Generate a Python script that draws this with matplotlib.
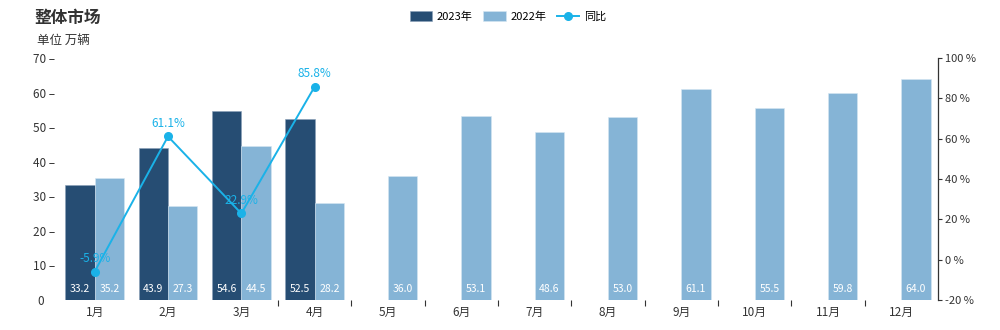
import matplotlib.pyplot as plt
import numpy as np

plt.rcParams['font.family'] = ['Noto Sans CJK SC', 'DejaVu Sans']

months = ['1月', '2月', '3月', '4月', '5月', '6月', '7月', '8月', '9月', '10月', '11月', '12月']
sales_2023 = [33.2, 43.9, 54.6, 52.5]
sales_2022 = [35.2, 27.3, 44.5, 28.2, 36.0, 53.1, 48.6, 53.0, 61.1, 55.5, 59.8, 64.0]
yoy = [-5.9, 61.1, 22.9, 85.8]

c_2023 = '#264d73'
c_2022 = '#85b4d6'
c_line = '#1ab2e8'
c_text = '#333333'

fig = plt.figure(figsize=(10, 3.3), dpi=100)
ax = fig.add_axes([0.058, 30 / 330, 0.88, 242 / 330])
ax2 = ax.twinx()

x = np.arange(len(months))
w = 0.4
b1 = ax.bar(x[:len(sales_2023)] - w / 2, sales_2023, w, color=c_2023,
            edgecolor='#8aa0b8', linewidth=0.4, label='2023年')
b2 = ax.bar(x + w / 2, sales_2022, w, color=c_2022,
            edgecolor='#d6e6f2', linewidth=0.4, label='2022年')

for bars, vals in ((b1, sales_2023), (b2, sales_2022)):
    for r, v in zip(bars, vals):
        ax.text(r.get_x() + r.get_width() / 2, 1.8, f'{v:.1f}', ha='center', va='bottom',
                color='white', fontsize=7.5)

ax.set_ylim(0, 70)
ax.set_xlim(-0.5, 11.5)
ax.set_yticks(range(0, 71, 10))
ax.tick_params(axis='y', length=0, labelsize=8.5, colors=c_text, pad=2)
ax.set_yticklabels([f'{v} –' if v > 0 else f'{v}    ' for v in range(0, 71, 10)])
ax.set_xticks(x)
ax.set_xticklabels(months)
ax.set_xticks(np.arange(2.5, 11, 1), minor=True)
ax.tick_params(axis='x', which='major', length=0, labelsize=8.5, colors=c_text, pad=4)
ax.tick_params(axis='x', which='minor', length=4, width=0.8, color=c_text)
for s in ax.spines.values():
    s.set_visible(False)

ln, = ax2.plot(x[:len(yoy)], yoy, color=c_line, lw=1.4, marker='o', ms=5.5, label='同比')
for xi, v in zip(x, yoy):
    ax2.annotate(f'{v:.1f}%', (xi, v), xytext=(0, 5), textcoords='offset points',
                 ha='center', va='bottom', color=c_line, fontsize=8.5)
ax2.set_ylim(-20, 100)
ax2.set_yticks(range(-20, 101, 20))
ax2.set_yticklabels([f'{v} %' for v in range(-20, 101, 20)])
ax2.tick_params(axis='y', length=3, width=0.8, labelsize=8, colors=c_text, pad=2)
for k, s in ax2.spines.items():
    s.set_visible(k == 'right')
ax2.spines['right'].set_color(c_text)
ax2.spines['right'].set_linewidth(0.9)

fig.text(0.034, 0.945, '整体市场', fontsize=12, fontweight='bold', color=c_text, va='center')
fig.text(0.037, 0.878, '单位 万辆', fontsize=9, color=c_text, va='center')

fig.legend(handles=[b1, b2, ln], loc='center', bbox_to_anchor=(0.508, 0.95), ncol=3,
           frameon=False, fontsize=8, handlelength=2.0, handleheight=0.9,
           columnspacing=1.0, handletextpad=0.4)

fig.savefig('out.png', dpi=100)
